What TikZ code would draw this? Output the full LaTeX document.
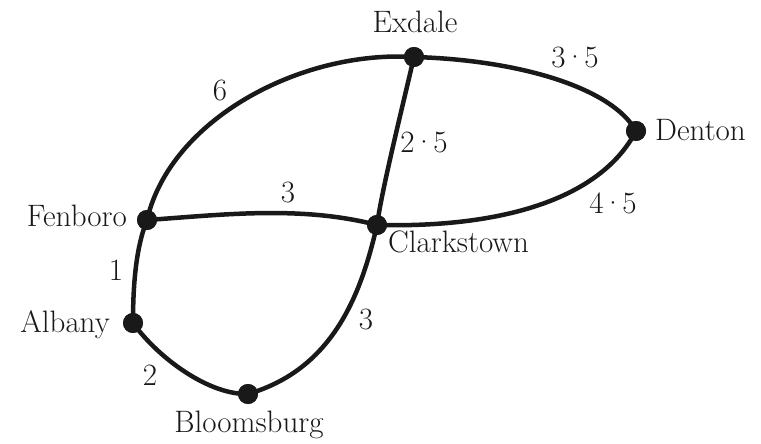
\documentclass[tikz,border=0pt]{standalone}
\newcommand{\pdot}{\kern-0.06em\textperiodcentered\kern-0.06em}
\begin{document}
\begin{tikzpicture}[x=1pt,y=-1pt,
  road/.style={line width=4.5pt,black!90},
  town/.style={circle,fill=black!90,inner sep=0pt,minimum size=20pt},
  lbl/.style={font=\fontsize{31}{38}\selectfont,inner sep=0pt,text=black!90},
  wt/.style={font=\fontsize{31}{38}\selectfont,inner sep=0pt,text=black!90,anchor=base}]
\useasboundingbox (0,0) rectangle (761,444);
% towns
\node[town] (E) at (414,57) {};
\node[town] (D) at (636,131) {};
\node[town] (F) at (147,220) {};
\node[town] (C) at (377,225) {};
\node[town] (A) at (133,323) {};
\node[town] (B) at (248,394) {};
% roads
\draw[road] (E.center) .. controls (520,60) and (612,88) .. (D.center);
\draw[road] (D.center) .. controls (600,200) and (500,228) .. (C.center);
\draw[road] (E.center) .. controls (398,125) and (382,190) .. (C.center);
\draw[road] (E.center) .. controls (300,50) and (170,120) .. (F.center);
\draw[road] (F.center) .. controls (220,215) and (300,205) .. (C.center);
\draw[road] (F.center) .. controls (135,250) and (133,290) .. (A.center);
\draw[road] (A.center) .. controls (160,360) and (210,395) .. (B.center);
\draw[road] (B.center) .. controls (330,370) and (360,300) .. (C.center);
% redraw dots on top
\foreach \n in {E,D,F,C,A,B} \node[town] at (\n) {};
% town names
\node[lbl,anchor=base] (tE) at (415,33) {Exdale};
\node[lbl,anchor=base west] (tD) at (655,140) {Denton};
\node[lbl,anchor=base east] (tF) at (127,226) {Fenboro};
\node[lbl,anchor=base west] (tC) at (388,252) {Clarkstown};
\node[lbl,anchor=base east] (tA) at (110,332) {Albany};
\node[lbl,anchor=base] (tB) at (249,432) {Bloomsburg};
% weights
\node[wt] (w1) at (220,101) {6};
\node[wt] (w2) at (575,67) {3\pdot5};
\node[wt] (w3) at (424,153) {2\pdot5};
\node[wt] (w4) at (288,202) {3};
\node[wt] (w5) at (613,213) {4\pdot5};
\node[wt] (w6) at (116,280) {1};
\node[wt] (w7) at (150,385) {2};
\node[wt] (w8) at (366,329) {3};
\end{tikzpicture}
\end{document}
